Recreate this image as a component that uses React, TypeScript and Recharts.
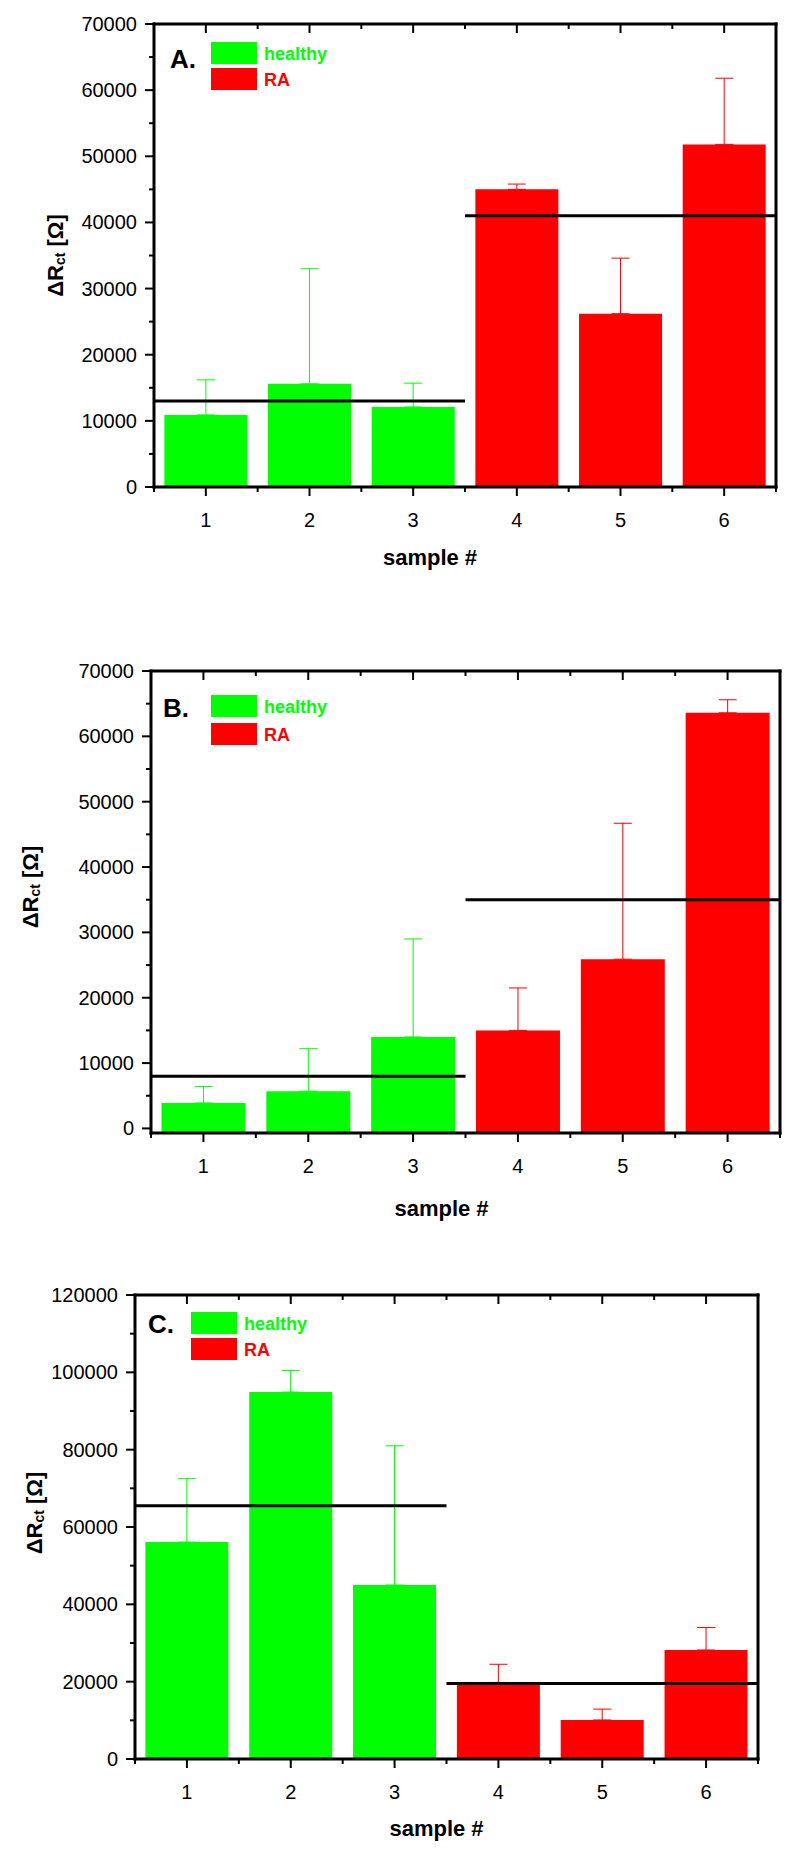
import React from 'react';
import { ComposedChart, Bar, Cell, ErrorBar, XAxis, YAxis, ReferenceLine, Legend } from 'recharts';

// categories / groups
const SAMPLES = ['1', '2', '3', '4', '5', '6'];
const GROUPS = ['healthy', 'RA'];
const SAMPLE_GROUP = [0, 0, 0, 1, 1, 1];
const GROUP_COLORS = ['#00ff00', '#ff0000'];
// group mean lines run over the half of the axis that holds the group:
// healthy = start of band "1" .. start of band "4", RA = end of band "3" .. end of band "6"
const GROUP_SEGMENTS = [
  { from: '1', to: '4', position: 'start' },
  { from: '3', to: '6', position: 'end' },
];

// panel A
const A_VALUES = [10900, 15600, 12100, 45000, 26200, 51800];
const A_ERRORS = [5300, 17400, 3600, 800, 8400, 10000];
const A_MEANS = [13000, 41000];
const A_Y_TICKS = [0, 5000, 10000, 15000, 20000, 25000, 30000, 35000, 40000, 45000, 50000, 55000, 60000, 65000, 70000];

// panel B
const B_VALUES = [3900, 5700, 14000, 15000, 25900, 63600];
const B_ERRORS = [2500, 6500, 15000, 6500, 20800, 2000];
const B_MEANS = [8000, 35000];
const B_Y_TICKS = A_Y_TICKS;

// panel C
const C_VALUES = [56100, 94900, 45000, 19800, 10100, 28200];
const C_ERRORS = [16400, 5600, 36000, 4700, 2800, 5800];
const C_MEANS = [65500, 19500];
const C_Y_TICKS = [0, 10000, 20000, 30000, 40000, 50000, 60000, 70000, 80000, 90000, 100000, 110000, 120000];

const FONT = "'Liberation Sans', Arial, Helvetica, sans-serif";
const Y_AXIS_W = 100;
const X_AXIS_H = 80;

const PANELS = [
  {
    letter: 'A.', values: A_VALUES, errors: A_ERRORS, means: A_MEANS, yTicks: A_Y_TICKS,
    yDomain: [0, 70000], major: 10000,
    top: 0, height: 600, plot: { left: 154, right: 776, top: 24, bottom: 487 },
    yTitle: { dx: -99, dy: 0 }, xTitle: { dx: -35, dy: 70 },
    legend: { letterX: 16, letterY: 44, rectX: 57, rectY: 18, gap: 26 },
  },
  {
    letter: 'B.', values: B_VALUES, errors: B_ERRORS, means: B_MEANS, yTicks: B_Y_TICKS,
    yDomain: [-700, 70000], major: 10000,
    top: 640, height: 600, plot: { left: 151, right: 780, top: 31, bottom: 493 },
    yTitle: { dx: -121, dy: -15 }, xTitle: { dx: -24, dy: 75 },
    legend: { letterX: 12, letterY: 46, rectX: 60, rectY: 24, gap: 28 },
  },
  {
    letter: 'C.', values: C_VALUES, errors: C_ERRORS, means: C_MEANS, yTicks: C_Y_TICKS,
    yDomain: [0, 120000], major: 20000,
    top: 1270, height: 584, plot: { left: 135, right: 758, top: 25, bottom: 489 },
    yTitle: { dx: -101, dy: -14 }, xTitle: { dx: -10, dy: 69 },
    legend: { letterX: 13, letterY: 38, rectX: 56, rectY: 17, gap: 26 },
  },
];

const tickText = {
  stroke: 'none',
  fill: '#000',
  fontSize: 20,
  fontFamily: FONT,
  dominantBaseline: 'central' as const,
};

// y axis tick: major ticks (with label) and minor ticks, outward on the left, inward on the right
function makeYTick(side: 'left' | 'right', major: number) {
  return (props: any) => {
    const { x, y, payload } = props;
    const v = payload.value;
    const isMajor = v % major === 0;
    const len = isMajor ? 9 : 5;
    return (
      <g stroke="#000" strokeWidth={2}>
        <line x1={x - len} x2={x} y1={y} y2={y} />
        {isMajor && side === 'left' && (
          <text x={x - 17} y={y} textAnchor="end" {...tickText}>
            {v}
          </text>
        )}
      </g>
    );
  };
}

// x axis tick: major tick at the band centre, minor ticks at the band edges
function makeXTick(side: 'top' | 'bottom', band: number) {
  return (props: any) => {
    const { x, y, payload, index } = props;
    const last = index === SAMPLES.length - 1;
    const dir = side === 'bottom' ? 1 : 1;
    return (
      <g stroke="#000" strokeWidth={2}>
        <line x1={x} x2={x} y1={y} y2={y + dir * 9} />
        <line x1={x - band / 2} x2={x - band / 2} y1={y} y2={y + dir * 5} />
        {last && <line x1={x + band / 2} x2={x + band / 2} y1={y} y2={y + dir * 5} />}
        {side === 'bottom' && (
          <text x={x} y={y + 33} textAnchor="middle" {...tickText}>
            {payload.value}
          </text>
        )}
      </g>
    );
  };
}

function Panel({ p }: { p: (typeof PANELS)[number] }) {
  const rows = SAMPLES.map((s, i) => {
    const g = SAMPLE_GROUP[i];
    return {
      sample: s,
      range: [p.yDomain[0], p.values[i]],
      healthyErr: g === 0 ? [0, p.errors[i]] : undefined,
      raErr: g === 1 ? [0, p.errors[i]] : undefined,
    };
  });
  const margin = {
    top: p.plot.top,
    right: 800 - p.plot.right,
    left: p.plot.left - Y_AXIS_W,
    bottom: p.height - p.plot.bottom - X_AXIS_H,
  };
  const band = (p.plot.right - p.plot.left) / SAMPLES.length;
  const midY = (p.plot.top + p.plot.bottom) / 2;
  const midX = (p.plot.left + p.plot.right) / 2;
  const axisLine = { stroke: '#000', strokeWidth: 3, strokeLinecap: 'square' as const };
  const lg = p.legend;

  const yTitle = () => {
    const cx = p.plot.left + p.yTitle.dx;
    const cy = midY + p.yTitle.dy;
    return (
      <text
        x={cx}
        y={cy}
        transform={`rotate(-90 ${cx} ${cy})`}
        textAnchor="middle"
        dominantBaseline="central"
        fontFamily={FONT}
        fontWeight="bold"
        fontSize={22}
        fill="#000"
      >
        ΔR<tspan fontSize={14} dy={5}>ct</tspan>
        <tspan dy={-5}> [Ω]</tspan>
      </text>
    );
  };

  const xTitle = () => (
    <text
      x={midX + p.xTitle.dx}
      y={p.plot.bottom + p.xTitle.dy}
      textAnchor="middle"
      dominantBaseline="central"
      fontFamily={FONT}
      fontWeight="bold"
      fontSize={22}
      fill="#000"
    >
      sample #
    </text>
  );

  const legendContent = () => (
    <svg width={240} height={90} style={{ display: 'block' }}>
      <text x={lg.letterX} y={lg.letterY} fontFamily={FONT} fontWeight="bold" fontSize={26} fill="#000">
        {p.letter}
      </text>
      {GROUPS.map((g, i) => (
        <g key={g}>
          <rect x={lg.rectX} y={lg.rectY + i * lg.gap} width={46} height={22} fill={GROUP_COLORS[i]} />
          <text
            x={lg.rectX + 53}
            y={lg.rectY + i * lg.gap + 18}
            fontFamily={FONT}
            fontWeight="bold"
            fontSize={18}
            fill={GROUP_COLORS[i]}
          >
            {g}
          </text>
        </g>
      ))}
    </svg>
  );

  return (
    <div style={{ position: 'absolute', left: 0, top: p.top, width: 800, height: p.height }}>
      <ComposedChart width={800} height={p.height} data={rows} margin={margin} barCategoryGap="10%">
        <XAxis
          xAxisId="cat"
          dataKey="sample"
          interval={0}
          height={X_AXIS_H}
          axisLine={axisLine}
          tickLine={false}
          tickSize={0}
          tickMargin={0}
          tick={makeXTick('bottom', band)}
          label={xTitle}
        />
        <XAxis
          xAxisId="top"
          dataKey="sample"
          orientation="top"
          mirror
          interval={0}
          axisLine={axisLine}
          tickLine={false}
          tickSize={0}
          tickMargin={0}
          tick={makeXTick('top', band)}
        />
        <YAxis
          yAxisId="left"
          type="number"
          domain={p.yDomain}
          ticks={p.yTicks}
          interval={0}
          width={Y_AXIS_W}
          axisLine={axisLine}
          tickLine={false}
          tickSize={0}
          tickMargin={0}
          tick={makeYTick('left', p.major)}
          label={yTitle}
        />
        <YAxis
          yAxisId="right"
          type="number"
          orientation="right"
          mirror
          domain={p.yDomain}
          ticks={p.yTicks}
          interval={0}
          axisLine={axisLine}
          tickLine={false}
          tickSize={0}
          tickMargin={0}
          tick={makeYTick('right', p.major)}
        />
        <Bar xAxisId="cat" yAxisId="left" dataKey="range" isAnimationActive={false}>
          {rows.map((r, i) => (
            <Cell key={r.sample} fill={GROUP_COLORS[SAMPLE_GROUP[i]]} />
          ))}
          <ErrorBar dataKey="healthyErr" direction="y" width={9} stroke={GROUP_COLORS[0]} strokeWidth={1} />
          <ErrorBar dataKey="raErr" direction="y" width={9} stroke={GROUP_COLORS[1]} strokeWidth={1} />
        </Bar>
        {p.means.map((m, gi) => (
          <ReferenceLine
            key={gi}
            xAxisId="cat"
            yAxisId="left"
            segment={[
              { x: GROUP_SEGMENTS[gi].from, y: m },
              { x: GROUP_SEGMENTS[gi].to, y: m },
            ]}
            position={GROUP_SEGMENTS[gi].position as 'start' | 'end'}
            stroke="#000"
            strokeWidth={3}
            ifOverflow="visible"
          />
        ))}
        <Legend
          layout="vertical"
          align="center"
          verticalAlign="middle"
          wrapperStyle={{ left: p.plot.left, top: p.plot.top, width: 240, height: 90 }}
          content={legendContent}
        />
      </ComposedChart>
    </div>
  );
}

export default function App() {
  return (
    <div style={{ position: 'absolute', left: 0, top: 0, width: 800, height: 1854, background: '#fff' }}>
      {PANELS.map((p) => (
        <Panel key={p.letter} p={p} />
      ))}
    </div>
  );
}
